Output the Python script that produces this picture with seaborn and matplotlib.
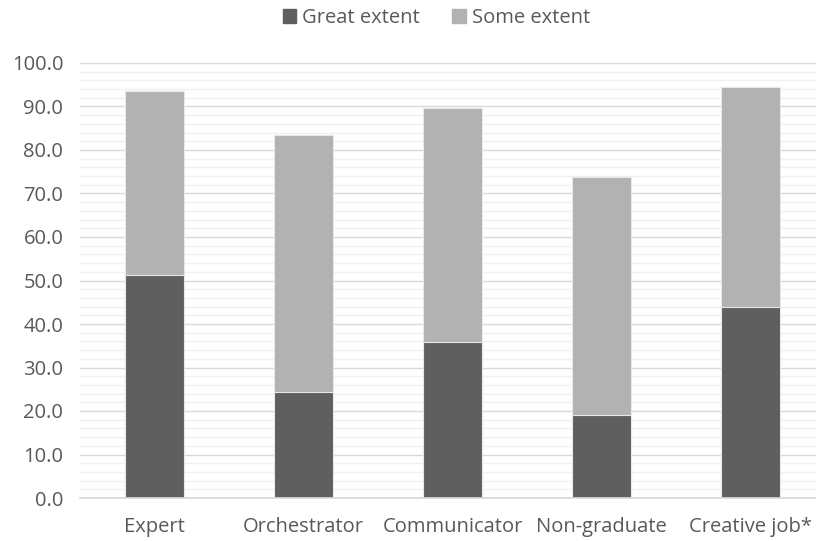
import pandas as pd
import matplotlib.pyplot as plt
import seaborn as sns
from matplotlib.ticker import MultipleLocator
from matplotlib.patches import Patch

# values
roles = ["Expert", "Orchestrator", "Communicator", "Non-graduate", "Creative job*"]
great_extent = [51.3, 24.4, 35.9, 19.1, 43.9]
some_extent = [42.3, 59.0, 53.8, 54.7, 50.6]

df = pd.DataFrame({"role": roles, "great": great_extent, "some": some_extent})
df["total"] = df["great"] + df["some"]

sns.set_theme(style="white")
plt.rcParams["font.family"] = ["Open Sans", "DejaVu Sans"]

dark = "#5f5f5f"
light = "#b2b2b2"
text_col = "#595959"

fig = plt.figure(figsize=(8.16, 5.41), dpi=100)
ax = fig.add_axes([80 / 816, 1 - 498 / 541, 1 - 80 / 816, (498 - 63) / 541])

# stacked bars: total in light grey, great extent over it in dark grey
sns.barplot(data=df, x="role", y="total", color=light, saturation=1, width=0.40,
            edgecolor="#e8e8e8", linewidth=0.8, ax=ax, zorder=3)
sns.barplot(data=df, x="role", y="great", color=dark, saturation=1, width=0.40,
            edgecolor="#e8e8e8", linewidth=0.8, ax=ax, zorder=4)

ax.set_ylim(0, 100)
ax.set_xlim(-0.5, -0.5 + 736 / 149)
ax.yaxis.set_major_locator(MultipleLocator(10))
ax.yaxis.set_minor_locator(MultipleLocator(2))
ax.set_yticklabels([f"{v:.1f}" for v in ax.get_yticks()])
ax.grid(axis="y", which="major", color="#d9d9d9", linewidth=1.0, zorder=0)
ax.grid(axis="y", which="minor", color="#f0f0f0", linewidth=1.0, zorder=0)
ax.set_axisbelow(True)

for s in ["top", "right", "left"]:
    ax.spines[s].set_visible(False)
ax.spines["bottom"].set_color("#d9d9d9")
ax.spines["bottom"].set_zorder(5)

ax.set_xlabel("")
ax.set_ylabel("")
ax.tick_params(axis="both", which="both", length=0, labelsize=14.5, colors=text_col)
ax.tick_params(axis="x", pad=14)
ax.tick_params(axis="y", pad=12)

handles = [Patch(color=dark, label="Great extent"), Patch(color=light, label="Some extent")]
fig.legend(handles=handles, loc="center", bbox_to_anchor=(0.535, 1 - 18 / 541), ncol=2,
           frameon=False, fontsize=14.5, labelcolor=text_col, handlelength=0.65,
           handleheight=0.65, handletextpad=0.3, columnspacing=1.6)

fig.savefig("out.png", dpi=100)
